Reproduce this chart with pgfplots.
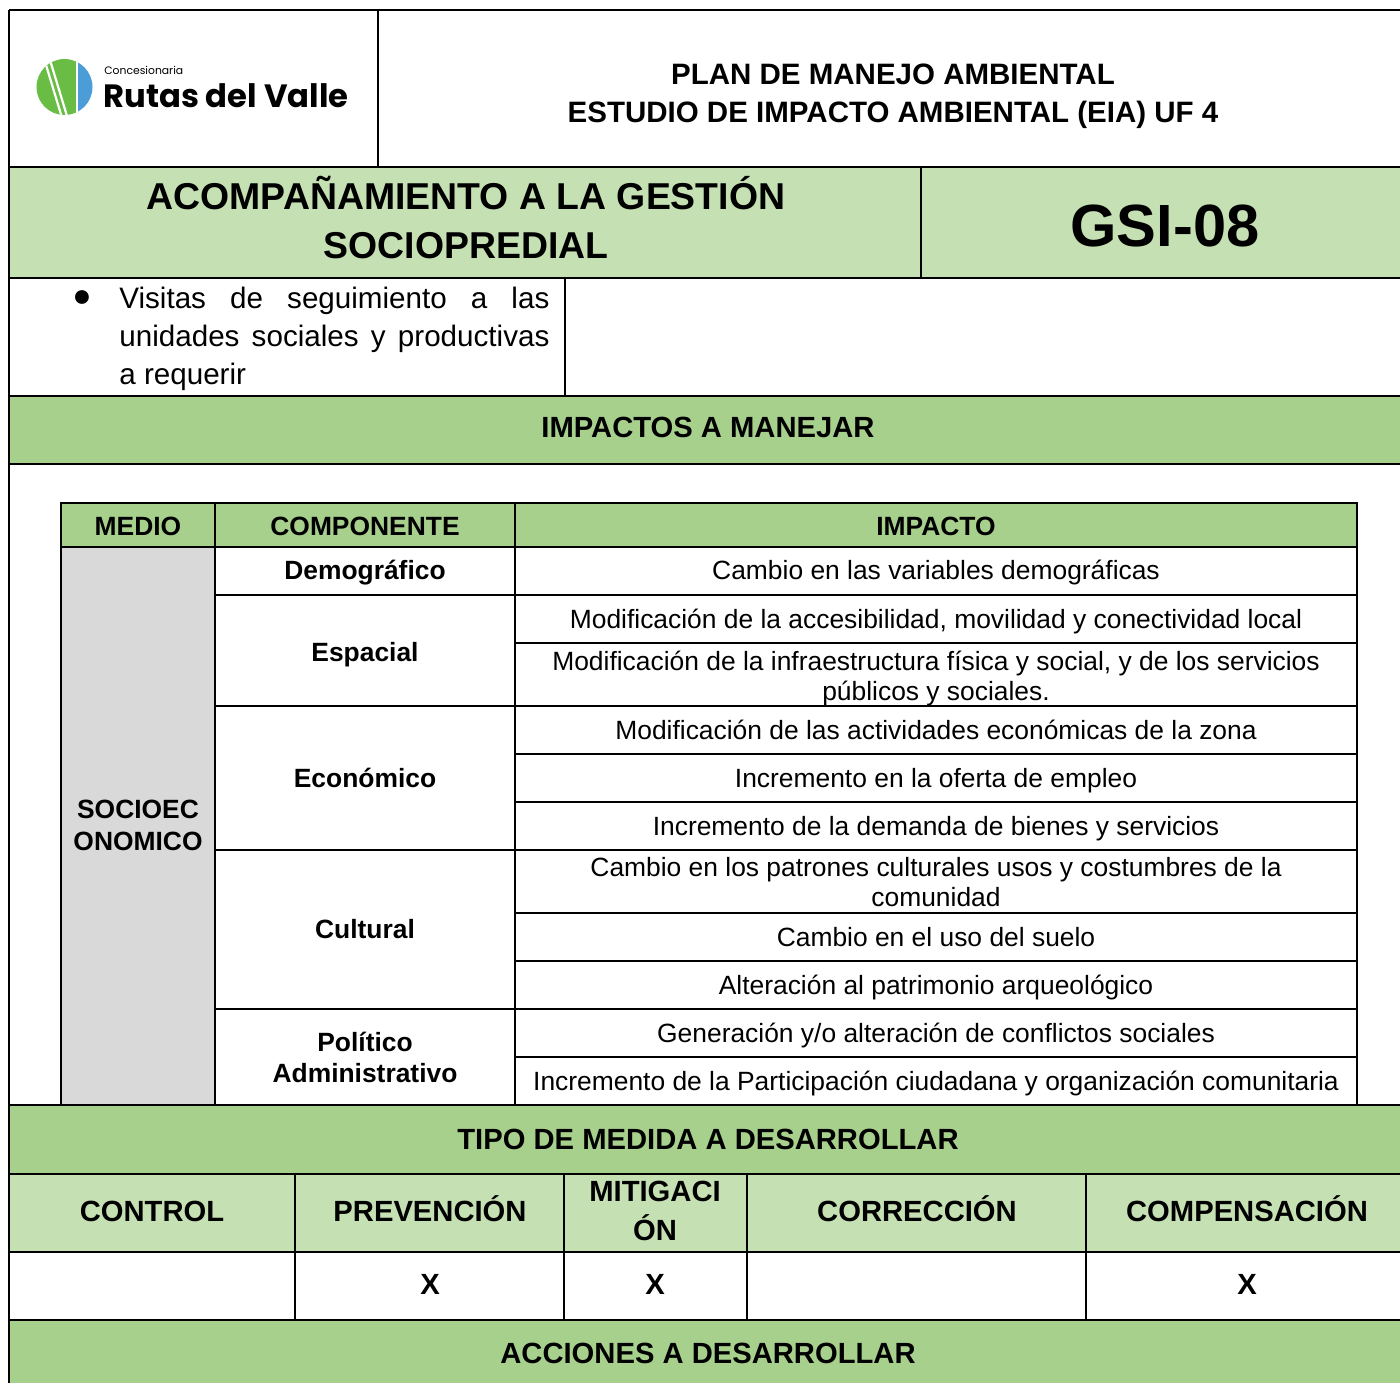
\documentclass[border=0pt]{standalone}
\usepackage{pgfplots}
\pgfplotsset{compat=1.18}
\usepackage{fontspec}
\setmainfont{Liberation Sans}
\newfontfamily\logofont{Poppins}
\definecolor{lg}{HTML}{C5E0B3}
\definecolor{dg}{HTML}{A8D08D}
\definecolor{gr}{HTML}{D9D9D9}
\definecolor{logog}{HTML}{69BD45}
\definecolor{logob}{HTML}{4A9DD6}
\newcommand{\cell}[5]{\addplot[fill=#5,draw=none] coordinates {(#1,#2)(#3,#2)(#3,#4)(#1,#4)} -- cycle;}
\newcommand{\body}{\fontsize{13.2}{15}\selectfont}
\newcommand{\sect}{\fontsize{14.6}{19}\selectfont\bfseries}
\newcommand{\bullettext}{\fontsize{14.8}{19}\selectfont}
\tikzset{t/.style={anchor=base, inner sep=0pt}}
\begin{document}
\begin{tikzpicture}
\begin{axis}[scale only axis, width=700pt, height=691.5pt,
  xmin=0, xmax=1400, ymin=0, ymax=1383, y dir=reverse, hide axis, clip=true]
% fills
\cell{9}{167}{1400}{278}{lg}
\cell{9}{396}{1400}{464}{dg}
\cell{61}{503}{1357}{547}{dg}
\cell{61}{547}{215}{1105}{gr}
\cell{9}{1105}{1400}{1174}{dg}
\cell{9}{1174}{1400}{1252}{lg}
\cell{9}{1320}{1400}{1383}{dg}
% logo
\begin{scope}
\clip (axis cs:64.5,87) circle[radius=14pt];
\fill[logog] (axis cs:30,50) rectangle (axis cs:76,125);
\fill[logob] (axis cs:78,50) rectangle (axis cs:100,125);
\draw[white, line width=1.1pt] (axis cs:43,55) -- (axis cs:63,121);
\draw[white, line width=1.1pt] (axis cs:48.5,55) -- (axis cs:68.5,121);
\end{scope}
\node[anchor=base west, inner sep=0pt] at (axis cs:104,74) {\logofont\fontsize{5.4}{6}\selectfont Concesionaria};
\node[anchor=base west, inner sep=0pt] at (axis cs:103,107) {\resizebox{122.5pt}{!}{\logofont\bfseries Rutas del Valle}};
% outer lines
\begin{scope}[line width=1pt]
\draw (axis cs:9,10) -- (axis cs:1400,10);
\draw (axis cs:9,10) -- (axis cs:9,1383);
\draw (axis cs:9,167) -- (axis cs:1400,167);
\draw (axis cs:378,10) -- (axis cs:378,167);
\draw (axis cs:9,278) -- (axis cs:1400,278);
\draw (axis cs:921,167) -- (axis cs:921,278);
\draw (axis cs:565,278) -- (axis cs:565,396);
\draw (axis cs:9,396) -- (axis cs:1400,396);
\draw (axis cs:9,464) -- (axis cs:1400,464);
\draw (axis cs:9,1105) -- (axis cs:1400,1105);
\draw (axis cs:9,1174) -- (axis cs:1400,1174);
\draw (axis cs:9,1252) -- (axis cs:1400,1252);
\draw (axis cs:9,1320) -- (axis cs:1400,1320);
\draw (axis cs:295,1174) -- (axis cs:295,1320);
\draw (axis cs:564,1174) -- (axis cs:564,1320);
\draw (axis cs:747,1174) -- (axis cs:747,1320);
\draw (axis cs:1086,1174) -- (axis cs:1086,1320);
\end{scope}
% inner table lines
\begin{scope}[line width=0.9pt]
\draw (axis cs:61,503) rectangle (axis cs:1357,1105);
\draw (axis cs:215,503) -- (axis cs:215,1105);
\draw (axis cs:515,503) -- (axis cs:515,1105);
\draw (axis cs:61,547) -- (axis cs:1357,547);
\draw (axis cs:215,595) -- (axis cs:1357,595);
\draw (axis cs:215,706) -- (axis cs:1357,706);
\draw (axis cs:215,850) -- (axis cs:1357,850);
\draw (axis cs:215,1009) -- (axis cs:1357,1009);
\draw (axis cs:515,643) -- (axis cs:1357,643);
\draw (axis cs:515,754) -- (axis cs:1357,754);
\draw (axis cs:515,802) -- (axis cs:1357,802);
\draw (axis cs:515,913) -- (axis cs:1357,913);
\draw (axis cs:515,961) -- (axis cs:1357,961);
\draw (axis cs:515,1057) -- (axis cs:1357,1057);
\end{scope}
% header text
\node[t, font=\fontsize{14.75}{19.5}\selectfont\bfseries] at (axis cs:893,84.3) {PLAN DE MANEJO AMBIENTAL};
\node[t, font=\fontsize{14.75}{19.5}\selectfont\bfseries] at (axis cs:893,122.7) {ESTUDIO DE IMPACTO AMBIENTAL (EIA) UF 4};
\node[t, font=\fontsize{18.7}{24.5}\selectfont\bfseries] at (axis cs:466,209) {ACOMPAÑAMIENTO A LA GESTIÓN};
\node[t, font=\fontsize{18.7}{24.5}\selectfont\bfseries] at (axis cs:466,258) {SOCIOPREDIAL};
\node[t, font=\fontsize{29.8}{34}\selectfont\bfseries] at (axis cs:1165,246.7) {GSI-08};
% bullet
\node[t, font=\fontsize{16}{19}\selectfont] at (axis cs:82,306) {●};
\node[anchor=base west, inner sep=0pt, font=\bullettext] at (axis cs:119,308) {\makebox[215pt][s]{Visitas de seguimiento a las}};
\node[anchor=base west, inner sep=0pt, font=\bullettext] at (axis cs:119,346) {\makebox[215pt][s]{unidades sociales y productivas}};
\node[anchor=base west, inner sep=0pt, font=\bullettext] at (axis cs:119,384) {a requerir};
% section bars
\node[t, font=\sect] at (axis cs:708,437) {IMPACTOS A MANEJAR};
\node[t, font=\sect] at (axis cs:708,1149.3) {TIPO DE MEDIDA A DESARROLLAR};
\node[t, font=\sect] at (axis cs:708,1363.3) {ACCIONES A DESARROLLAR};
% inner table text
\node[t, font=\body\bfseries] at (axis cs:138,535) {MEDIO};
\node[t, font=\body\bfseries] at (axis cs:365,535) {COMPONENTE};
\node[t, font=\body\bfseries] at (axis cs:936,535) {IMPACTO};
\node[t, font=\body\bfseries] at (axis cs:138,818) {SOCIOEC};
\node[t, font=\body\bfseries] at (axis cs:138,850) {ONOMICO};
\node[t, font=\body\bfseries] at (axis cs:365,579) {Demográfico};
\node[t, font=\body\bfseries] at (axis cs:365,661) {Espacial};
\node[t, font=\body\bfseries] at (axis cs:365,787) {Económico};
\node[t, font=\body\bfseries] at (axis cs:365,938) {Cultural};
\node[t, font=\body\bfseries] at (axis cs:365,1051) {Político};
\node[t, font=\body\bfseries] at (axis cs:365,1082) {Administrativo};
\node[t, font=\body] at (axis cs:936,579) {Cambio en las variables demográficas};
\node[t, font=\body] at (axis cs:936,628) {Modificación de la accesibilidad, movilidad y conectividad local};
\node[t, font=\body] at (axis cs:936,670) {Modificación de la infraestructura física y social, y de los servicios};
\node[t, font=\body] at (axis cs:936,700) {públicos y sociales.};
\node[t, font=\body] at (axis cs:936,739) {Modificación de las actividades económicas de la zona};
\node[t, font=\body] at (axis cs:936,787) {Incremento en la oferta de empleo};
\node[t, font=\body] at (axis cs:936,835) {Incremento de la demanda de bienes y servicios};
\node[t, font=\body] at (axis cs:936,876) {Cambio en los patrones culturales usos y costumbres de la};
\node[t, font=\body] at (axis cs:936,906) {comunidad};
\node[t, font=\body] at (axis cs:936,946) {Cambio en el uso del suelo};
\node[t, font=\body] at (axis cs:936,994) {Alteración al patrimonio arqueológico};
\node[t, font=\body] at (axis cs:936,1042) {Generación y/o alteración de conflictos sociales};
\node[t, font=\body] at (axis cs:936,1090) {Incremento de la Participación ciudadana y organización comunitaria};
% bottom headers
\node[t, font=\sect] at (axis cs:152,1221.7) {CONTROL};
\node[t, font=\sect] at (axis cs:430,1221.7) {PREVENCIÓN};
\node[t, font=\sect] at (axis cs:655,1201.7) {MITIGACI};
\node[t, font=\sect] at (axis cs:655,1240.7) {ÓN};
\node[t, font=\sect] at (axis cs:917,1221.7) {CORRECCIÓN};
\node[t, font=\sect] at (axis cs:1247,1221.7) {COMPENSACIÓN};
\node[t, font=\sect] at (axis cs:430,1294) {X};
\node[t, font=\sect] at (axis cs:655,1294) {X};
\node[t, font=\sect] at (axis cs:1247,1294) {X};
\end{axis}
\pgfresetboundingbox
\path (current axis.south west) rectangle (current axis.north east);
\end{tikzpicture}
\end{document}
